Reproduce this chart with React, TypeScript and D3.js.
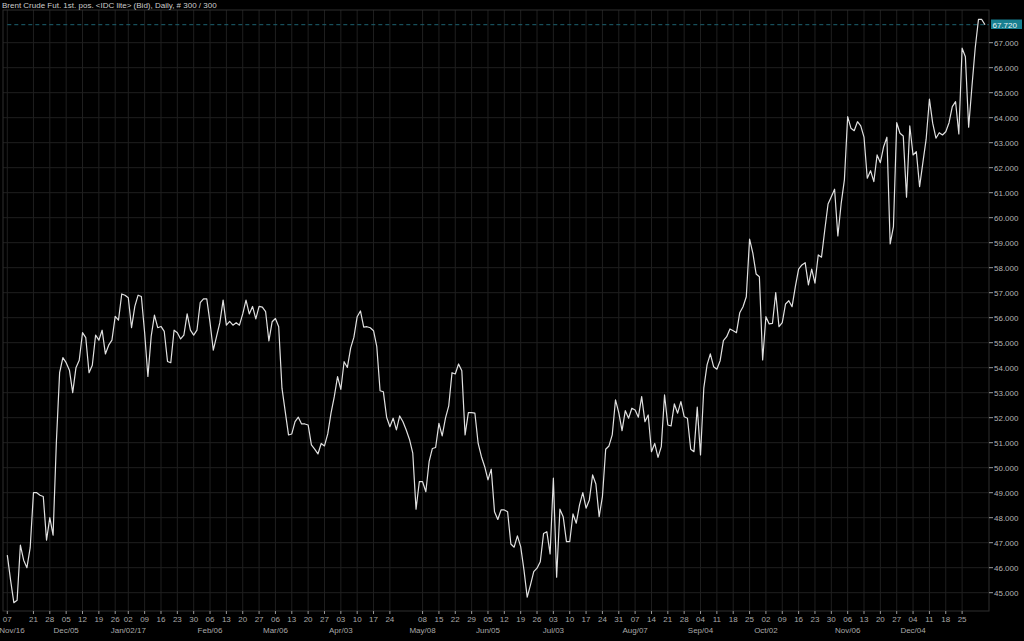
import React from "react";
import * as d3 from "d3";

const TITLE = "Brent Crude Fut. 1st. pos. <IDC lite> (Bid), Daily, # 300 / 300";

const prices: number[] = [
  46.5, 45.5, 44.6, 44.7, 46.9, 46.3, 46.0, 46.8, 49.0, 49.0,
  48.9, 48.85, 47.1, 48.0, 47.3, 51.0, 53.8, 54.4, 54.2, 53.9,
  53.0, 54.0, 54.3, 55.4, 55.2, 53.8, 54.1, 55.3, 55.1, 55.5,
  54.55, 54.9, 55.1, 56.05, 55.9, 56.95, 56.9, 56.8, 55.6, 56.45,
  56.9, 56.85, 55.4, 53.65, 55.25, 56.1, 55.6, 55.65, 55.45, 54.25,
  54.2, 55.5, 55.4, 55.15, 55.3, 56.15, 55.5, 55.3, 55.5, 56.6,
  56.75, 56.75, 55.8, 54.7, 55.25, 55.8, 56.7, 55.7, 55.85, 55.7,
  55.8, 55.7, 56.15, 56.7, 56.15, 56.45, 55.95, 56.45, 56.42, 56.24,
  55.07, 55.84, 55.97, 55.64, 53.18, 52.24, 51.31, 51.35, 51.84, 52.02,
  51.75, 51.75, 51.71, 50.91, 50.74, 50.55, 50.97, 50.87, 51.35, 52.18,
  52.84, 53.64, 53.13, 54.24, 54.01, 54.78, 55.22, 56.04, 56.27, 55.62,
  55.64, 55.6, 55.48, 54.84, 53.08, 53.04, 52.02, 51.64, 51.98, 51.51,
  52.07, 51.84, 51.51, 51.13, 50.58, 48.34, 49.44, 49.44, 49.04, 50.24,
  50.77, 50.81, 51.77, 51.27, 51.98, 52.47, 53.8, 53.75, 54.15, 53.88,
  51.31, 52.2, 52.2, 52.18, 50.97, 50.44, 50.04, 49.51, 49.94, 48.24,
  47.93, 48.31, 48.31, 48.24, 46.95, 46.82, 47.27, 46.84, 45.91, 44.82,
  45.31, 45.84, 45.98, 46.24, 47.37, 47.44, 46.55, 49.58, 45.62, 48.34,
  48.04, 47.04, 47.04, 48.15, 47.78, 48.51, 49.0, 48.38, 48.71, 49.71,
  49.35, 48.04, 48.84, 50.74, 50.87, 51.31, 52.71, 52.2, 51.48, 52.28,
  51.98, 52.38, 52.31, 52.02, 52.84, 51.84, 52.11, 50.64, 50.97, 50.41,
  50.84, 52.91, 51.71, 51.67, 52.55, 52.18, 52.64, 52.04, 51.98, 50.74,
  50.64, 52.42, 50.51, 53.18, 54.11, 54.55, 54.04, 53.94, 54.28, 55.08,
  55.24, 55.55, 55.48, 55.4, 56.2, 56.44, 56.84, 59.14, 58.58, 57.75,
  57.64, 54.31, 56.04, 55.75, 55.77, 57.0, 55.64, 55.8, 56.55, 56.68,
  56.44, 57.24, 57.94, 58.11, 58.2, 57.31, 57.94, 57.38, 58.51, 58.42,
  59.51, 60.55, 60.84, 61.14, 59.27, 60.55, 61.51, 64.04, 63.58, 63.48,
  63.84, 63.67, 63.22, 61.58, 61.88, 61.44, 62.51, 62.2, 62.84, 63.22,
  58.95, 59.64, 63.8, 63.38, 63.27, 60.82, 63.67, 62.51, 62.64, 61.24,
  62.2, 63.14, 64.74, 63.78, 63.18, 63.4, 63.31, 63.44, 63.8, 64.44,
  64.64, 63.35, 66.78, 66.44, 63.62, 65.24, 66.78, 67.93, 67.93, 67.72,
];

const lastValue = 67.72;

const dayTickIndex: number[] = [
  0, 8, 13, 18, 23, 28, 33, 37, 42, 47, 52, 57, 62, 67, 72, 77, 82, 87, 92, 97,
  102, 107, 112, 117, 127, 132, 137, 142, 147, 152, 157, 162, 167, 172, 177, 182,
  187, 192, 197, 202, 207, 212, 217, 222, 227, 232, 237, 242, 247, 252, 257, 262,
  267, 272, 277, 282, 287, 292,
];
const dayTickLabel: string[] = [
  "07", "21", "28", "05", "12", "19", "26", "02", "09", "16", "23", "30", "06", "13",
  "20", "27", "06", "13", "20", "27", "03", "10", "17", "24", "08", "15", "22", "29",
  "05", "12", "19", "26", "03", "10", "17", "24", "31", "07", "14", "21", "28", "04",
  "11", "18", "25", "02", "09", "16", "23", "30", "06", "13", "20", "27", "04", "11",
  "18", "25",
];
const monthTickIndex: number[] = [0, 18, 37, 62, 82, 102, 127, 147, 167, 192, 212, 232, 257, 277];
const monthTickLabel: string[] = [
  "Nov/16", "Dec/05", "Jan/02/17", "Feb/06", "Mar/06", "Apr/03", "May/08", "Jun/05",
  "Jul/03", "Aug/07", "Sep/04", "Oct/02", "Nov/06", "Dec/04",
];
const yTicks: number[] = d3.range(45, 68, 1);

export default function App() {
  const W = 1024, H = 641;
  const plotL = 3, plotR = 989, plotT = 10, plotB = 611;
  const x = d3.scaleLinear().domain([0, 299]).range([7.3, 985]);
  const y = d3.scaleLinear().domain([45, 67]).range([592.7, 42.7]);
  const line = d3.line<number>().x((_, i) => x(i)).y((d) => y(d));
  const font = "'Liberation Sans', Arial, sans-serif";

  return (
    <svg width={W} height={H} style={{ position: "absolute", left: 0, top: 0, background: "#000" }} fontFamily={font}>
      <rect x={0} y={0} width={W} height={H} fill="#000" />
      {/* grid */}
      {yTicks.map((v) => (
        <line key={"h" + v} x1={plotL} x2={plotR} y1={y(v)} y2={y(v)} stroke="#1f1f1f" strokeWidth={1} />
      ))}
      {dayTickIndex.map((i, k) => (
        <line key={"v" + k} x1={x(i)} x2={x(i)} y1={plotT} y2={plotB} stroke="#1f1f1f" strokeWidth={1} />
      ))}
      {/* frame */}
      <rect x={plotL} y={plotT} width={plotR - plotL} height={plotB - plotT} fill="none" stroke="#2e2e2e" strokeWidth={1} />
      {/* last value dashed line */}
      <line x1={x(0)} x2={plotR} y1={y(lastValue)} y2={y(lastValue)} stroke="#1d6270" strokeWidth={1} strokeDasharray="4,3" />
      {/* price line */}
      <path d={line(prices) || ""} fill="none" stroke="#e0e0e0" strokeWidth={1.2} strokeLinejoin="round" />
      {/* y axis */}
      {yTicks.map((v) => (
        <g key={"yt" + v}>
          <line x1={plotR} x2={plotR + 4} y1={y(v)} y2={y(v)} stroke="#9a9a9a" />
          <text x={plotR + 5} y={y(v) + 3} fontSize={8} fill="#b4b4b4">{v.toFixed(3)}</text>
        </g>
      ))}
      <rect x={991} y={19.5} width={31} height={9.5} fill="#187f90" />
      <text x={992.5} y={y(lastValue) + 3} fontSize={8} fill="#e8f4f6">{lastValue.toFixed(3)}</text>
      {/* x axis */}
      {dayTickIndex.map((i, k) => (
        <g key={"xt" + k}>
          <line x1={x(i)} x2={x(i)} y1={plotB} y2={plotB + 3} stroke="#9a9a9a" />
          <text x={x(i)} y={622} fontSize={8} fill="#a8a8a8" textAnchor="middle">{dayTickLabel[k]}</text>
        </g>
      ))}
      {monthTickIndex.map((i, k) => (
        <text key={"mt" + k} x={Math.max(x(i), 12)} y={633} fontSize={8} fill="#a8a8a8" textAnchor="middle">{monthTickLabel[k]}</text>
      ))}
      {/* title */}
      <text x={2} y={8} fontSize={8} fill="#cccccc">{TITLE}</text>
    </svg>
  );
}
